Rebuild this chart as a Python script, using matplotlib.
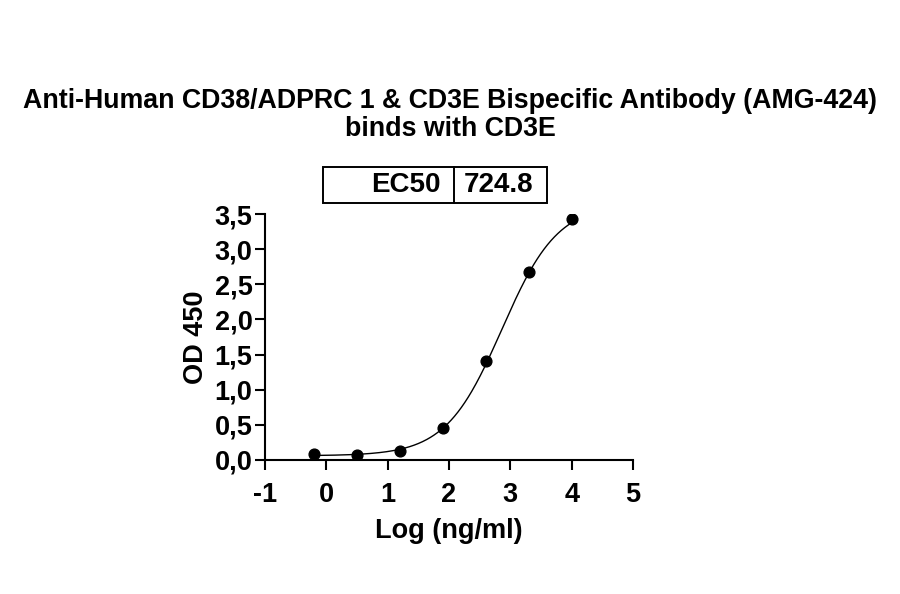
import numpy as np
import matplotlib.pyplot as plt
from matplotlib.patches import Rectangle

plt.rcParams['font.family'] = ['Liberation Sans', 'DejaVu Sans']
plt.rcParams['font.weight'] = 'bold'

# measured points
log_conc = [-0.2, 0.5, 1.2, 1.9, 2.6, 3.3, 4.0]
od450 = [0.09, 0.07, 0.13, 0.45, 1.41, 2.67, 3.43]

# 4PL fit parameters
bottom = 0.06
top = 3.65
ec50 = 724.8
hill = 0.95

title = "Anti-Human CD38/ADPRC 1 & CD3E Bispecific Antibody (AMG-424)\nbinds with CD3E"
xticks = [-1, 0, 1, 2, 3, 4, 5]
yticks = [0.0, 0.5, 1.0, 1.5, 2.0, 2.5, 3.0, 3.5]

fig = plt.figure(figsize=(9, 5.94), dpi=100)
ax = fig.add_axes([0.2944, 0.2256, 0.4089, 0.4141])

xs = np.linspace(min(log_conc), max(log_conc), 300)
fit = bottom + (top - bottom) / (1 + 10 ** ((np.log10(ec50) - xs) * hill))
ax.plot(xs, fit, color='black', lw=1.0)
ax.scatter(log_conc, od450, s=60, color='black', zorder=3)

ax.set_xlim(-1, 5)
ax.set_ylim(0, 3.5)
ax.set_xticks(xticks)
ax.set_xticklabels([str(t) for t in xticks])
ax.set_yticks(yticks)
ax.set_yticklabels([f"{t:.1f}".replace('.', ',') for t in yticks])
ax.tick_params(axis='both', labelsize=19.5, width=1.5, length=7, direction='out')
ax.tick_params(axis='x', pad=9)
ax.tick_params(axis='y', pad=2)
for s in ['top', 'right']:
    ax.spines[s].set_visible(False)
for s in ['left', 'bottom']:
    ax.spines[s].set_linewidth(1.5)

ax.set_xlabel("Log (ng/ml)", fontsize=19.5, fontweight='bold', labelpad=7)
ax.set_ylabel("OD 450", fontsize=19.5, fontweight='bold', labelpad=4)

fig.text(0.5, 0.806, title, ha='center', va='center', fontsize=19.3,
         fontweight='bold', linespacing=1.1)

# EC50 table box
W, H = 900, 594
box = Rectangle((323 / W, 1 - 203 / H), (547 - 323) / W, 36 / H,
                transform=fig.transFigure, fill=False, lw=1.4, color='black')
fig.add_artist(box)
fig.add_artist(plt.Line2D([454 / W, 454 / W], [1 - 203 / H, 1 - 167 / H],
                          transform=fig.transFigure, lw=1.4, color='black'))
fig.text(441 / W, 1 - 185 / H, "EC50", ha='right', va='center', fontsize=20, fontweight='bold')
fig.text(464 / W, 1 - 185 / H, f"{ec50}", ha='left', va='center', fontsize=20, fontweight='bold')

fig.savefig('out.png', dpi=100)
